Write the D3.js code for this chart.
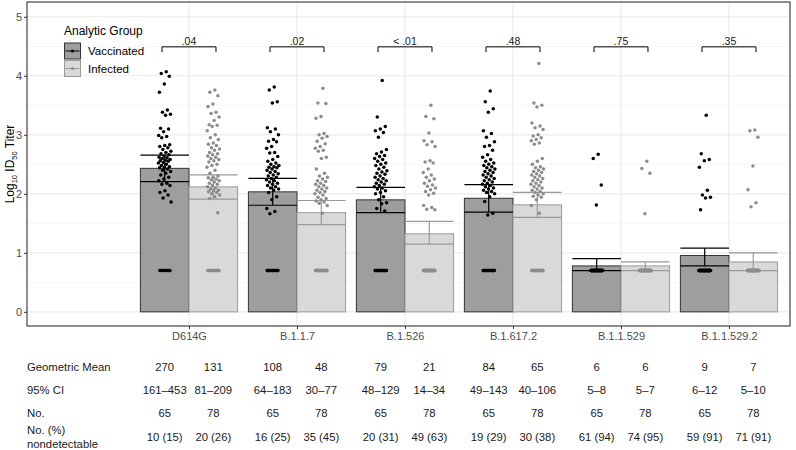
<!DOCTYPE html>
<html>
<head>
<meta charset="utf-8">
<script src="https://cdn.jsdelivr.net/npm/d3@7"></script>
<style>
  body { margin: 0; background: #fff; }
  svg { font-family: "Liberation Sans", Arial, sans-serif; }
</style>
</head>
<body>
<script>
// ---- data ----
const variants = ["D614G", "B.1.1.7", "B.1.526", "B.1.617.2", "B.1.1.529", "B.1.1.529.2"];
const pValues = [".04", ".02", "< .01", ".48", ".75", ".35"];

const geoMeanVacc = [270, 108, 79, 84, 6, 9];
const ciLowVacc = [161, 64, 48, 49, 5, 6];
const ciHighVacc = [453, 183, 129, 143, 8, 12];
const nVacc = [65, 65, 65, 65, 65, 65];
const nondetVacc = [10, 16, 20, 19, 61, 59];
const pctVacc = [15, 25, 31, 29, 94, 91];

const geoMeanInf = [131, 48, 21, 65, 6, 7];
const ciLowInf = [81, 30, 14, 40, 5, 5];
const ciHighInf = [209, 77, 34, 106, 7, 10];
const nInf = [78, 78, 78, 78, 78, 78];
const nondetInf = [20, 35, 49, 30, 74, 71];
const pctInf = [26, 45, 63, 38, 95, 91];

// detectable log10 titers, one list per variant
const vaccTiters = [
  [4.07, 4.04, 3.99, 3.86, 3.72, 3.42, 3.38, 3.35, 3.33, 3.11, 3.10, 3.05, 2.99, 2.97, 2.95, 2.83, 2.82, 2.80, 2.78, 2.75,
   2.72, 2.70, 2.68, 2.66, 2.64, 2.62, 2.61, 2.60, 2.58, 2.57, 2.56, 2.55, 2.53, 2.52, 2.50, 2.48, 2.46, 2.45, 2.44, 2.42,
   2.40, 2.38, 2.35, 2.32, 2.28, 2.25, 2.22, 2.18, 2.16, 2.14, 2.05, 2.02, 1.98, 1.93, 1.86],
  [3.81, 3.76, 3.56, 3.54, 3.12, 3.10, 3.05, 3.00, 2.92, 2.89, 2.88, 2.80, 2.77, 2.70, 2.69, 2.63, 2.58, 2.55, 2.52, 2.50,
   2.48, 2.46, 2.45, 2.44, 2.42, 2.40, 2.38, 2.36, 2.34, 2.32, 2.30, 2.28, 2.26, 2.24, 2.22, 2.20, 2.18, 2.16, 2.14, 2.12,
   2.10, 2.08, 2.06, 2.02, 1.95, 1.90, 1.75, 1.70, 1.66],
  [3.92, 3.30, 3.14, 3.10, 3.07, 3.04, 2.96, 2.75, 2.71, 2.68, 2.65, 2.63, 2.60, 2.58, 2.55, 2.52, 2.50, 2.48, 2.45, 2.42,
   2.39, 2.37, 2.35, 2.33, 2.30, 2.28, 2.26, 2.24, 2.22, 2.20, 2.18, 2.16, 2.14, 2.12, 2.10, 2.08, 2.05, 2.02, 2.00, 1.95,
   1.90, 1.85, 1.83, 1.75, 1.71],
  [3.74, 3.56, 3.44, 3.38, 3.07, 3.02, 2.96, 2.88, 2.82, 2.80, 2.74, 2.66, 2.62, 2.58, 2.55, 2.52, 2.50, 2.48, 2.46, 2.44,
   2.42, 2.40, 2.38, 2.36, 2.34, 2.32, 2.30, 2.28, 2.26, 2.24, 2.22, 2.20, 2.18, 2.16, 2.14, 2.12, 2.10, 2.08, 2.06, 2.04,
   2.02, 2.00, 1.95, 1.87, 1.67, 1.64],
  [2.67, 2.60, 2.15, 1.81],
  [3.33, 2.68, 2.58, 2.56, 2.45, 2.06, 1.98, 1.94, 1.93, 1.73]
];
const infTiters = [
  [3.76, 3.72, 3.66, 3.52, 3.48, 3.38, 3.36, 3.30, 3.24, 3.17, 3.16, 3.14, 3.07, 3.00, 2.95, 2.92, 2.86, 2.84, 2.82, 2.78,
   2.76, 2.74, 2.70, 2.68, 2.66, 2.64, 2.62, 2.60, 2.58, 2.56, 2.54, 2.50, 2.48, 2.45, 2.40, 2.35, 2.30, 2.28, 2.27, 2.25,
   2.24, 2.22, 2.20, 2.18, 2.16, 2.14, 2.12, 2.10, 2.08, 2.06, 2.05, 2.04, 2.02, 2.00, 1.98, 1.95, 1.92, 1.68],
  [3.79, 3.54, 3.53, 3.31, 3.28, 3.02, 3.00, 2.97, 2.94, 2.89, 2.85, 2.80, 2.77, 2.74, 2.72, 2.62, 2.60, 2.42, 2.35, 2.30,
   2.28, 2.25, 2.22, 2.21, 2.18, 2.16, 2.14, 2.12, 2.10, 2.08, 2.06, 2.04, 2.02, 2.00, 1.98, 1.94, 1.92, 1.90, 1.88, 1.86,
   1.84, 1.80, 1.67],
  [3.50, 3.31, 3.27, 3.03, 2.90, 2.88, 2.83, 2.80, 2.56, 2.54, 2.52, 2.42, 2.36, 2.32, 2.28, 2.25, 2.22, 2.18, 2.15, 2.13,
   2.10, 2.07, 2.04, 2.01, 1.98, 1.80, 1.77, 1.74, 1.73],
  [4.21, 3.54, 3.50, 3.47, 3.20, 3.15, 3.12, 3.09, 3.00, 2.98, 2.95, 2.92, 2.90, 2.86, 2.84, 2.60, 2.55, 2.50, 2.46, 2.44,
   2.42, 2.40, 2.38, 2.36, 2.34, 2.32, 2.30, 2.28, 2.26, 2.24, 2.22, 2.20, 2.18, 2.16, 2.14, 2.12, 2.10, 2.08, 2.06, 2.04,
   2.02, 2.00, 1.98, 1.96, 1.94, 1.90, 1.80, 1.67],
  [2.55, 2.43, 2.35, 1.66],
  [3.08, 3.07, 2.96, 2.47, 2.07, 1.85, 1.78]
];
const lodTiter = 5; // nondetectable values plotted at the limit of detection
const yTicks = [0, 1, 2, 3, 4, 5];

// ---- layout ----
const width = 796, height = 450;
const panel = { left: 27, right: 790, top: 2, bottom: 326 };
const barW = 0.45;

const svg = d3.select("body").append("svg")
  .attr("width", width).attr("height", height);

const x = d3.scaleLinear().domain([-1.5, 5.565]).range([panel.left, panel.right]);
const y = d3.scaleLinear().domain([-0.24, 5.25]).range([panel.bottom, panel.top]);

const groups = [
  { name: "Vaccinated", gm: geoMeanVacc, lo: ciLowVacc, hi: ciHighVacc, n: nVacc, nd: nondetVacc, pct: pctVacc,
    titers: vaccTiters, side: -1, fill: "#9e9e9e", stroke: "#333333", point: "#000000", err: "#000000" },
  { name: "Infected", gm: geoMeanInf, lo: ciLowInf, hi: ciHighInf, n: nInf, nd: nondetInf, pct: pctInf,
    titers: infTiters, side: 1, fill: "#d9d9d9", stroke: "#9a9a9a", point: "#8c8c8c", err: "#9a9a9a" }
];
const center = (g, i) => i + g.side * barW / 2;

// grid
const grid = svg.append("g");
grid.selectAll(".minor").data(d3.range(0.5, 5, 1)).enter().append("line")
  .attr("x1", panel.left).attr("x2", panel.right)
  .attr("y1", d => y(d)).attr("y2", d => y(d))
  .attr("stroke", "#f1f1f1").attr("stroke-width", 0.7);
grid.selectAll(".major").data(yTicks).enter().append("line")
  .attr("x1", panel.left).attr("x2", panel.right)
  .attr("y1", d => y(d)).attr("y2", d => y(d))
  .attr("stroke", "#ebebeb").attr("stroke-width", 1.2);
grid.selectAll(".vert").data(variants).enter().append("line")
  .attr("x1", (d, i) => x(i)).attr("x2", (d, i) => x(i))
  .attr("y1", panel.top).attr("y2", panel.bottom)
  .attr("stroke", "#ebebeb").attr("stroke-width", 1.2);

// bars
groups.forEach(g => {
  svg.append("g").selectAll("rect").data(variants).enter().append("rect")
    .attr("x", (d, i) => x(g.side < 0 ? i - barW : i))
    .attr("width", x(barW) - x(0))
    .attr("y", (d, i) => y(Math.log10(g.gm[i])))
    .attr("height", (d, i) => y(0) - y(Math.log10(g.gm[i])))
    .attr("fill", g.fill).attr("stroke", g.stroke).attr("stroke-width", 1);
});

// error bars
groups.forEach(g => {
  const eb = svg.append("g").attr("stroke", g.err).attr("stroke-width", 1.2).attr("fill", "none");
  variants.forEach((v, i) => {
    const c = center(g, i);
    const lo = y(Math.log10(g.lo[i])), hi = y(Math.log10(g.hi[i]));
    eb.append("line").attr("x1", x(c)).attr("x2", x(c)).attr("y1", lo).attr("y2", hi);
    [lo, hi].forEach(yy => eb.append("line")
      .attr("x1", x(c - barW / 2)).attr("x2", x(c + barW / 2)).attr("y1", yy).attr("y2", yy));
  });
});

// jittered points (deterministic horizontal spread)
const spread = k => ((k * 0.6180339887) % 1) - 0.5;
groups.forEach(g => {
  const pts = [];
  variants.forEach((v, i) => {
    g.titers[i].forEach((t, k) => pts.push({ i, t, dx: spread(k + 1) * 0.12 }));
    d3.range(g.nd[i]).forEach(k => pts.push({ i, t: Math.log10(lodTiter), dx: spread(k + 3) * 0.11 }));
  });
  svg.append("g").selectAll("circle").data(pts).enter().append("circle")
    .attr("cx", d => x(center(g, d.i) + d.dx))
    .attr("cy", d => y(d.t))
    .attr("r", 1.75)
    .attr("fill", g.point);
});

// p-value brackets
const br = svg.append("g");
variants.forEach((v, i) => {
  br.append("path")
    .attr("d", `M${x(i - 0.25)},${y(4.40)}V${y(4.49)}H${x(i + 0.25)}V${y(4.40)}`)
    .attr("fill", "none").attr("stroke", "#000").attr("stroke-width", 1);
  br.append("text").attr("x", x(i)).attr("y", y(4.49) - 2)
    .attr("text-anchor", "middle").attr("font-size", 10.5).attr("fill", "#1a1a1a")
    .text(pValues[i]);
});

// panel border
svg.append("rect")
  .attr("x", panel.left).attr("y", panel.top)
  .attr("width", panel.right - panel.left).attr("height", panel.bottom - panel.top)
  .attr("fill", "none").attr("stroke", "#333333").attr("stroke-width", 1.1);

// axes
const yAxis = svg.append("g").attr("transform", `translate(${panel.left},0)`)
  .call(d3.axisLeft(y).tickValues(yTicks).tickSize(3).tickPadding(2).tickFormat(d3.format("d")));
const xAxis = svg.append("g").attr("transform", `translate(0,${panel.bottom})`)
  .call(d3.axisBottom(x).tickValues(d3.range(variants.length)).tickSize(3).tickPadding(3)
    .tickFormat(i => variants[i]));
[yAxis, xAxis].forEach(a => {
  a.select(".domain").remove();
  a.selectAll(".tick line").attr("stroke", "#333333");
  a.selectAll("text").attr("font-size", 11).attr("fill", "#4d4d4d")
    .attr("font-family", "\"Liberation Sans\", Arial, sans-serif");
});

// y axis title with subscripts
const yt = svg.append("text")
  .attr("transform", `translate(14,${(panel.top + panel.bottom) / 2}) rotate(-90)`)
  .attr("text-anchor", "middle").attr("font-size", 12).attr("fill", "#000");
yt.append("tspan").text("Log");
yt.append("tspan").attr("font-size", 7.5).attr("dy", 3).text("10");
yt.append("tspan").attr("dy", -3).text(" ID");
yt.append("tspan").attr("font-size", 7.5).attr("dy", 3).text("50");
yt.append("tspan").attr("dy", -3).text(" Titer");

// legend
const lg = svg.append("g");
lg.append("text").attr("x", 64).attr("y", 35).attr("font-size", 12).text("Analytic Group");
groups.forEach((g, k) => {
  const top = 43 + k * 17.5;
  lg.append("rect").attr("x", 64.5).attr("y", top).attr("width", 16).attr("height", 16)
    .attr("fill", g.fill).attr("stroke", g.stroke).attr("stroke-width", 1);
  lg.append("line").attr("x1", 65.5).attr("x2", 79.5).attr("y1", top + 8).attr("y2", top + 8)
    .attr("stroke", g.err).attr("stroke-width", 1);
  lg.append("circle").attr("cx", 72.5).attr("cy", top + 8).attr("r", 1.6).attr("fill", g.point);
  lg.append("text").attr("x", 88).attr("y", top + 12).attr("font-size", 11.5).text(g.name);
});

// table below the chart
const fmt = d3.format("d");
const rows = [
  { labels: [["Geometric Mean", 371]], y: 371, val: (g, i) => fmt(g.gm[i]) },
  { labels: [["95% CI", 394]], y: 394, val: (g, i) => `${g.lo[i]}\u2013${g.hi[i]}` },
  { labels: [["No.", 417]], y: 417, val: (g, i) => fmt(g.n[i]) },
  { labels: [["No. (%)", 434], ["nondetectable", 448]], y: 441, val: (g, i) => `${g.nd[i]} (${g.pct[i]})` }
];
const tb = svg.append("g").attr("font-size", 11.3).attr("fill", "#1a1a1a");
rows.forEach(r => {
  r.labels.forEach(([t, yy]) => tb.append("text").attr("x", 27).attr("y", yy).text(t));
  groups.forEach(g => variants.forEach((v, i) => {
    tb.append("text").attr("x", x(center(g, i))).attr("y", r.y)
      .attr("text-anchor", "middle").text(r.val(g, i));
  }));
});
</script>
</body>
</html>
